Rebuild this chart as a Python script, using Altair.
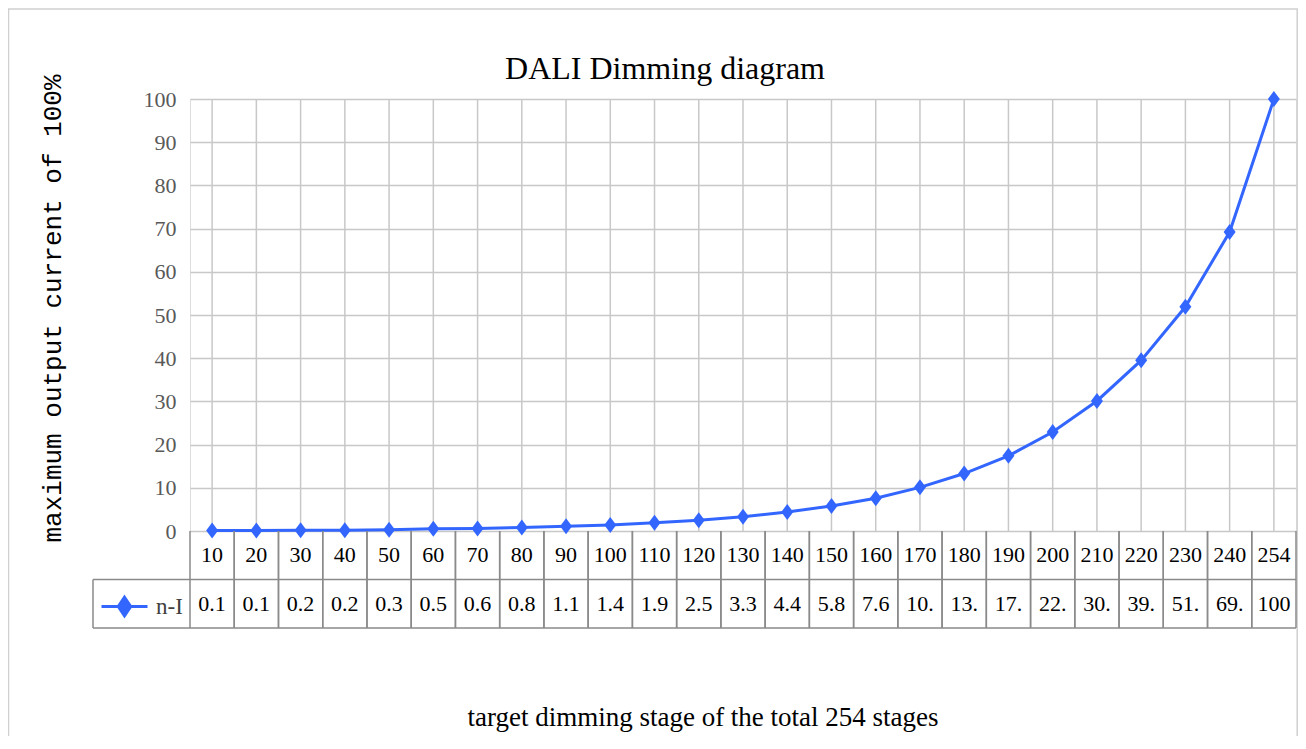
import altair as alt
import pandas as pd

# ---- data ----
stages = ["10", "20", "30", "40", "50", "60", "70", "80", "90", "100",
          "110", "120", "130", "140", "150", "160", "170", "180", "190", "200",
          "210", "220", "230", "240", "254"]
values = [0.1, 0.1, 0.2, 0.2, 0.3, 0.5, 0.6, 0.8, 1.1, 1.4,
          1.9, 2.5, 3.3, 4.4, 5.8, 7.6, 10.1, 13.3, 17.4, 22.9,
          30.1, 39.5, 51.9, 69.2, 100]
value_labels = ["0.1", "0.1", "0.2", "0.2", "0.3", "0.5", "0.6", "0.8", "1.1", "1.4",
                "1.9", "2.5", "3.3", "4.4", "5.8", "7.6", "10.", "13.", "17.", "22.",
                "30.", "39.", "51.", "69.", "100"]
series_name = "n-I"
y_ticks = [0, 10, 20, 30, 40, 50, 60, 70, 80, 90, 100]

chart_title = "DALI Dimming diagram"
y_title = "maximum output current of 100%"
x_title = "target dimming stage of the total 254 stages"

df = pd.DataFrame({"stage": stages, "value": values, "label": value_labels,
                   "series": [series_name] * len(stages)})

W, H = 1106, 432
BLUE = "#3366ff"
GRID = "#c8c8c8"
TABLE = "#8a8a8a"

x_main = alt.X(
    "stage:N", sort=stages,
    scale=alt.Scale(paddingInner=0, paddingOuter=0),
    axis=alt.Axis(bandPosition=0, grid=True, gridColor=GRID, gridWidth=1.5,
                  labels=False, ticks=False, domain=True, domainColor="#7f7f7f",
                  domainWidth=2, title=None),
)
x_plain = alt.X("stage:N", sort=stages, axis=None)

y_main = alt.Y(
    "value:Q", scale=alt.Scale(domain=[0, 100], nice=False),
    axis=alt.Axis(values=y_ticks, labelFont="Liberation Serif", labelFontSize=22,
                  labelColor="#595959", labelPadding=14, ticks=False, domain=False,
                  grid=True, gridColor=GRID, gridWidth=1.5,
                  title=y_title, titleX=-138, titleY=209, titleAngle=-90,
                  titleAlign="center", titleBaseline="middle",
                  titleFont="Liberation Mono", titleFontSize=26,
                  titleFontWeight="normal", titleColor="#000000"),
)

base = alt.Chart(df)

center_grid = base.mark_rule(color=GRID, strokeWidth=1.5).encode(
    x=x_plain, y=alt.datum(0), y2=alt.datum(100))

line = base.mark_line(color=BLUE, strokeWidth=3).encode(x=x_main, y=y_main)

diamond = "M0,-1L0.75,0L0,1L-0.75,0Z"
legend_path = "M-1,0L1,0M0,-0.4L0.27,0L0,0.4L-0.27,0Z"
points = base.mark_point(shape=diamond, filled=True, size=256, opacity=1).encode(
    x=x_plain, y="value:Q",
    color=alt.Color("series:N",
                    scale=alt.Scale(domain=[series_name], range=[BLUE]),
                    legend=alt.Legend(title=None, orient="none", legendX=-90, legendY=483,
                                      symbolType=legend_path, symbolSize=2116,
                                      symbolStrokeColor=BLUE, symbolStrokeWidth=3,
                                      symbolFillColor=BLUE, labelFont="Liberation Serif",
                                      labelFontSize=23, labelColor="#404040",
                                      labelOffset=7, padding=0)),
)

plot = alt.layer(center_grid, line, points)

# ---- data table below the plot (its own vertical scale: row units) ----
ty = alt.Scale(domain=[0, 2], range=[H, H + 97])

row1 = base.mark_text(font="Liberation Serif", fontSize=22, color="#000000",
                      baseline="middle").encode(
    x=x_plain, y=alt.Y(datum=0.5, scale=ty, axis=None), text="stage:N")
row2 = base.mark_text(font="Liberation Serif", fontSize=22, color="#000000",
                      baseline="middle").encode(
    x=x_plain, y=alt.datum(1.5), text="label:N")
vlines_l = base.mark_rule(color=TABLE, strokeWidth=1.5).encode(
    x=alt.X("stage:N", sort=stages, axis=None, bandPosition=0),
    y=alt.datum(0), y2=alt.datum(2))
vlines_r = base.mark_rule(color=TABLE, strokeWidth=1.5).encode(
    x=alt.X("stage:N", sort=stages, axis=None, bandPosition=1),
    y=alt.datum(0), y2=alt.datum(2))

hl_df = pd.DataFrame({"r": [1, 2]})
hlines = alt.Chart(hl_df).mark_rule(color=TABLE, strokeWidth=1.5).encode(
    x=alt.value(-97), x2=alt.value(W), y="r:Q")
cell_df = pd.DataFrame({"a": [1], "b": [2]})
cell_left = alt.Chart(cell_df).mark_rule(color=TABLE, strokeWidth=1.5).encode(
    x=alt.value(-97), y="a:Q", y2="b:Q")

table = alt.layer(row1, row2, vlines_l, vlines_r, hlines, cell_left)

# ---- chart title, x-axis title and chart-area frame ----
title_df = pd.DataFrame({"t": [chart_title]})
title = alt.Chart(title_df).mark_text(font="Liberation Serif", fontSize=32,
                                      color="#000000", align="center",
                                      baseline="alphabetic").encode(
    x=alt.value(475), y=alt.value(-20), text="t:N")
xt_df = pd.DataFrame({"t": [x_title]})
xtitle = alt.Chart(xt_df).mark_text(font="Liberation Serif", fontSize=27,
                                    color="#000000", align="center",
                                    baseline="middle").encode(
    x=alt.value(513), y=alt.value(H + 187), text="t:N")
frame = alt.Chart(title_df).mark_rect(fill="transparent", stroke="#d0d0d0",
                                      strokeWidth=1.5).encode(
    x=alt.value(-181.5), x2=alt.value(W + 1.2), y=alt.value(-90), y2=alt.value(700))

chart = alt.layer(frame, plot, table, title, xtitle).resolve_scale(y="independent").properties(
    width=W, height=H, autosize="none",
    padding={"left": 182, "top": 91, "right": 2, "bottom": 205},
).configure_view(stroke=GRID, strokeWidth=1.5).configure(background="white")

chart.save("out.html", embed_options={"renderer": "svg", "actions": False})
